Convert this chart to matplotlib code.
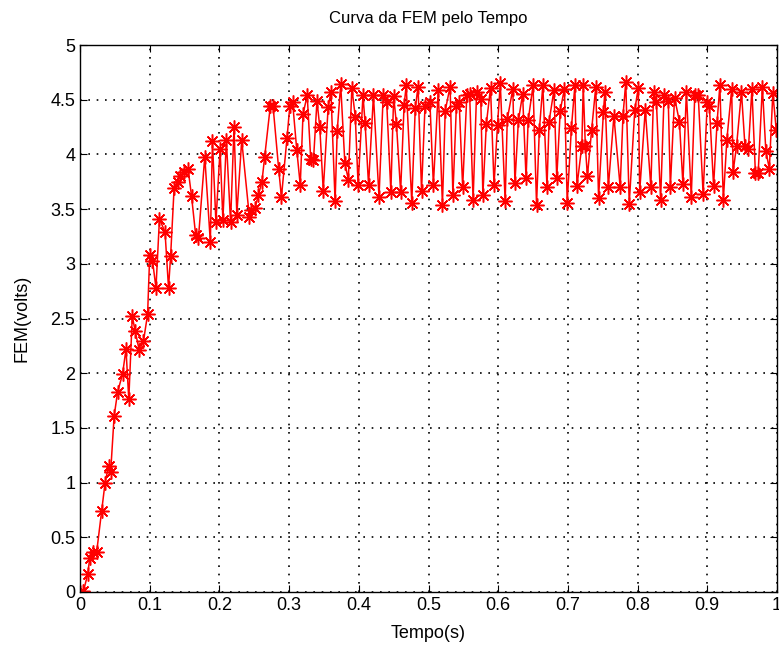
import matplotlib
matplotlib.use('Agg')
import matplotlib.pyplot as plt
from matplotlib.ticker import FormatStrFormatter

# FEM readings (time in s, voltage in volts)
tempo = [0.000, 0.005, 0.011, 0.014, 0.019, 0.024, 0.031, 0.036, 0.041, 0.044,
         0.049, 0.054, 0.061, 0.066, 0.070, 0.075, 0.079, 0.085, 0.091, 0.097,
         0.100, 0.104, 0.109, 0.114, 0.122, 0.127, 0.130, 0.135, 0.140, 0.143,
         0.149, 0.155, 0.160, 0.166, 0.170, 0.179, 0.187, 0.190, 0.195, 0.201,
         0.205, 0.210, 0.216, 0.221, 0.225, 0.232, 0.243, 0.246, 0.251, 0.256,
         0.261, 0.265, 0.273, 0.277, 0.285, 0.289, 0.297, 0.301, 0.305, 0.311,
         0.316, 0.320, 0.326, 0.331, 0.335, 0.340, 0.344, 0.349, 0.356, 0.360,
         0.366, 0.369, 0.374, 0.380, 0.385, 0.390, 0.395, 0.399, 0.406, 0.409,
         0.414, 0.421, 0.429, 0.435, 0.440, 0.446, 0.450, 0.454, 0.460, 0.465,
         0.468, 0.476, 0.481, 0.485, 0.490, 0.495, 0.502, 0.507, 0.514, 0.520,
         0.524, 0.531, 0.535, 0.540, 0.544, 0.549, 0.555, 0.559, 0.564, 0.569,
         0.575, 0.578, 0.583, 0.589, 0.594, 0.599, 0.603, 0.610, 0.613, 0.621,
         0.624, 0.629, 0.635, 0.640, 0.643, 0.650, 0.655, 0.659, 0.664, 0.670,
         0.673, 0.680, 0.684, 0.689, 0.695, 0.699, 0.705, 0.710, 0.713, 0.720,
         0.722, 0.725, 0.728, 0.734, 0.740, 0.744, 0.751, 0.753, 0.758, 0.766,
         0.775, 0.779, 0.783, 0.788, 0.796, 0.801, 0.803, 0.811, 0.819, 0.823,
         0.827, 0.833, 0.838, 0.844, 0.847, 0.853, 0.860, 0.865, 0.870, 0.877,
         0.882, 0.887, 0.894, 0.900, 0.903, 0.909, 0.914, 0.918, 0.923, 0.928,
         0.935, 0.937, 0.942, 0.949, 0.954, 0.959, 0.964, 0.969, 0.973, 0.979,
         0.984, 0.989, 0.994, 0.999]

fem = [0.00, 0.01, 0.16, 0.31, 0.37, 0.37, 0.74, 1.00, 1.15, 1.10,
       1.61, 1.83, 1.99, 2.22, 1.76, 2.52, 2.39, 2.21, 2.29, 2.54,
       3.08, 3.03, 2.78, 3.41, 3.29, 2.78, 3.07, 3.69, 3.75, 3.80,
       3.84, 3.87, 3.62, 3.26, 3.24, 3.98, 3.20, 4.12, 3.38, 4.05,
       3.40, 4.13, 3.38, 4.25, 3.45, 4.13, 3.43, 3.49, 3.51, 3.63,
       3.75, 3.98, 4.44, 4.44, 3.87, 3.61, 4.15, 4.44, 4.48, 4.04,
       3.72, 4.37, 4.54, 3.96, 3.95, 4.49, 4.25, 3.67, 4.43, 4.57,
       3.57, 4.21, 4.64, 3.92, 3.77, 4.61, 4.34, 3.72, 4.54, 4.29,
       3.72, 4.54, 3.61, 4.54, 4.48, 3.66, 4.53, 4.28, 3.66, 4.45,
       4.63, 3.56, 4.42, 4.62, 3.67, 4.44, 4.48, 3.72, 4.59, 3.54,
       4.40, 4.62, 3.63, 4.44, 4.48, 3.70, 4.54, 4.55, 3.58, 4.57,
       4.51, 3.63, 4.28, 4.61, 3.72, 4.27, 4.65, 3.57, 4.32, 4.60,
       3.74, 4.31, 4.55, 3.78, 4.31, 4.63, 3.54, 4.22, 4.63, 3.70,
       4.30, 4.59, 3.78, 4.40, 4.60, 3.56, 4.24, 4.63, 3.71, 4.08,
       4.63, 4.08, 3.80, 4.22, 4.62, 3.60, 4.39, 4.57, 3.70, 4.35,
       3.70, 4.35, 4.66, 3.55, 4.41, 4.61, 3.66, 4.41, 3.70, 4.57,
       4.48, 3.58, 4.54, 4.49, 3.70, 4.52, 4.30, 3.73, 4.57, 3.61,
       4.54, 4.54, 3.64, 4.48, 4.44, 3.71, 4.29, 4.63, 3.58, 4.13,
       4.60, 3.84, 4.08, 4.57, 4.08, 4.05, 4.60, 3.83, 3.83, 4.62,
       4.03, 3.87, 4.56, 4.22]

xticks = [0, 0.1, 0.2, 0.3, 0.4, 0.5, 0.6, 0.7, 0.8, 0.9, 1]
yticks = [0, 0.5, 1, 1.5, 2, 2.5, 3, 3.5, 4, 4.5, 5]

plt.rcParams['font.family'] = ['Liberation Sans', 'DejaVu Sans']

fig = plt.figure(figsize=(7.79, 6.53), dpi=100)
ax = fig.add_axes([80 / 779, 61 / 653, 697 / 779, 547 / 653])

ax.plot(tempo, fem, color='red', linewidth=1.1,
        marker=(8, 2, 0), markersize=10, markeredgewidth=1.1,
        markeredgecolor='red')

ax.set_xlim(0, 1)
ax.set_ylim(0, 5)
ax.set_xticks(xticks)
ax.set_yticks(yticks)
ax.xaxis.set_major_formatter(FormatStrFormatter('%g'))
ax.yaxis.set_major_formatter(FormatStrFormatter('%g'))
ax.tick_params(direction='in', top=True, right=True, labelsize=13, length=5)
ax.grid(True, linestyle=(0, (1, 4)), color='black', linewidth=1.2)
for s in ax.spines.values():
    s.set_linewidth(1.0)

ax.set_xlabel('Tempo(s)', fontsize=13, labelpad=8)
ax.set_ylabel('FEM(volts)', fontsize=13, labelpad=14)
ax.set_title('Curva da FEM pelo Tempo', fontsize=12, pad=16)

fig.savefig('out.png', dpi=100)
